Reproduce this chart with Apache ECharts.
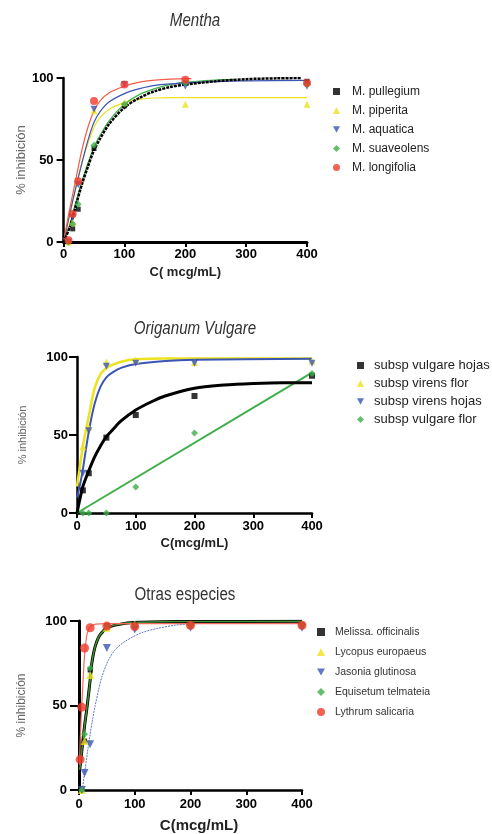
<!DOCTYPE html>
<html><head><meta charset="utf-8">
<script src="https://cdn.jsdelivr.net/npm/echarts@6/dist/echarts.min.js"></script>
<style>html,body{margin:0;padding:0;background:#fff}#c{width:492px;height:834px}</style>
</head><body><div id="c"></div>
<script>
// ---------- Chart 1: Mentha ----------
const menthaX = [8, 15, 24, 50, 100, 200, 400];
const mPullegium = [0, 8, 20, 57, 83, 97, 98];
const mPiperita = [0, 12, 37, 80, 85, 84, 84];
const mAquatica = [0, 15, 35, 81, 96, 95, 95];
const mSuaveolens = [0, 11, 23, 59, 84, 97, 96];
const mLongifolia = [1, 17, 37, 86, 96, 99, 97];
// fitted curves
const fPullegiumX = [0,10,20,30,40,50,60,75,100,125,150,175,200,250,300,350,390];
const fPullegiumY = [0,9,22,35,46,56,63,72,82,88,92,94.5,96,98,99.3,99.8,100];
const fSuaveolensX = [0,10,20,30,40,50,60,75,100,125,150,175,200,250,280];
const fSuaveolensY = [0,10,24,37,48,58,65,74,84,90,93.5,96,97.5,98.8,99.2];
const fAquaticaX = [0,10,20,30,40,50,60,75,100,125,150,200,250,300,400];
const fAquaticaY = [0,17,33,48,62,73,79.5,85.5,90.5,93.5,95.5,97,97.8,98.2,98.5];
const fLongifoliaX = [0,10,20,30,40,50,60,75,100,125,150,175,210];
const fLongifoliaY = [0,20,38,56,70,80,86,91,95,97.5,98.7,99.3,99.6];
const fPiperitaX = [0,10,20,30,40,50,60,75,100,125,150,175,400];
const fPiperitaY = [0,16,33,48,60,70,76,81,85,87,87.8,88,88];

// ---------- Chart 2: Origanum Vulgare ----------
const origX = [10, 20, 50, 100, 200, 400];
const oVulgareHojas = [14.5, 25.5, 48.3, 62.8, 75, 88];
const oVirensFlor = [42.5, 55, 96.8, 98, 96.4, 97.4];
const oVirensHojas = [25.5, 52.8, 94, 96, 96, 96];
const oVulgareFlor = [0, 0, 0, 16.6, 51.3, 89.4];
const fVulgareHojasX = [0,5,10,20,30,40,50,60,75,100,125,150,200,250,300,350,400];
const fVulgareHojasY = [0,9,17,27,36,43,49,53,59,66,71,75,80,82,83,83.5,83.5];
const fVirensFlorX = [0,5,10,20,30,40,50,60,75,100,150,400];
const fVirensFlorY = [17,30,43,62,80,89,93,95,97,98.5,99,99];
const fVirensHojasX = [0,5,10,20,30,40,50,60,75,100,150,200,400];
const fVirensHojasY = [10,18,28,52,70,81,87,90,93,95.5,97.5,98.3,98.8];
const fVulgareFlorX = [0, 400];
const fVulgareFlorY = [0, 90];

// ---------- Chart 3: Otras especies ----------
const otrasX = [2, 5, 10, 20, 50, 100, 200, 400];
const sMelissa = [null, 0, 29, 71, 97, 98, 98, 98];
const sLycopus = [null, 0, 29, 68, 96, 98, 98, 98];
const sJasonia = [null, 0, 10, 27, 84, 95, 96, 96];
const sEquisetum = [null, 0, 33, 72, 97, 98, 98, 98];
const sLythrum = [18, 49, 84, 96, 97, 96.7, 97.5, 97.5];
const fMelissaX = [1,2,5,10,14,20,23,29,38,53,82,112,150,200,400];
const fMelissaY = [12,14,23,38,48,65,75,85,92,96.3,98.6,99.3,99.6,99.7,99.8];
const fLycopusX = [1,2,5,10,14,20,23,29,38,53,82,112,150,200,400];
const fLycopusY = [12,14,22,37,47,64,74,84,91.5,96,98.5,99.2,99.6,99.7,99.8];
const fEquisetumX = [1,2,5,10,14,20,23,29,38,53,82,112,150,200,400];
const fEquisetumY = [12,14,23,38,48,65,75,85,92,96.3,98.6,99.3,99.6,99.7,99.8];
const fLythrumX = [1,2,3.5,5,7.5,10,12.5,15,20,30,50,400];
const fLythrumY = [15,28,40,50,66,80,88,93,96.5,98.2,98.5,98.5];
const fJasoniaX = [6,10,15,20,25,29,35,41,53,65,83,112,142,172,200,300,400];
const fJasoniaY = [0,10,22,33,43,50,59,67,77,83,88,93,95.7,97.5,98.3,99.3,99.6];

const titleTexts = ['Mentha', 'Origanum Vulgare', 'Otras especies'];

const FONT = '"Liberation Sans", Arial, sans-serif';
const C = {black:'#000000', yellow:'#ece21e', blue:'#3a55b4', green:'#3fae49', red:'#f0392b'};
const INV_TRI = 'path://M0,0L10,0L5,9Z';

function pairs(xs, ys) {
  const out = [];
  for (let i = 0; i < xs.length; i++) if (ys[i] !== null && ys[i] !== undefined) out.push([xs[i], ys[i]]);
  return out;
}
function pts(name, idx, xs, ys, color, symbol, size) {
  return {name, type:'scatter', xAxisIndex:idx, yAxisIndex:idx, data:pairs(xs, ys),
    symbol, symbolSize:size, itemStyle:{color}, z:3};
}
function fit(name, idx, xs, ys, color, width, extra) {
  return Object.assign({name, type:'line', xAxisIndex:idx, yAxisIndex:idx, data:pairs(xs, ys),
    showSymbol:false, symbol:'none', smooth:0.3, silent:true,
    lineStyle:{color, width}, z:2}, extra || {});
}
function xAxis(idx, name, lw, nameSize, nameGap, labelMargin, namePad) {
  return {type:'value', gridIndex:idx, min:0, max:400, interval:100,
    splitLine:{show:false},
    axisLine:{onZero:false, lineStyle:{color:'#000', width:lw}},
    axisTick:{show:true, length:5, lineStyle:{color:'#000', width:2}},
    axisLabel:{color:'#000', fontFamily:FONT, fontWeight:'bold', fontSize:13, margin:labelMargin},
    name, nameLocation:'middle', nameGap,
    nameTextStyle:{color:'#222', fontFamily:FONT, fontWeight:'bold', fontSize:nameSize, padding:namePad || 0}};
}
function yAxis(idx, lw, tickLen, nameSize, nameGap, labelMargin) {
  return {type:'value', gridIndex:idx, min:0, max:100, interval:50,
    splitLine:{show:false},
    axisLine:{onZero:false, lineStyle:{color:'#000', width:lw}},
    axisTick:{show:true, length:tickLen, lineStyle:{color:'#000', width:2}},
    axisLabel:{color:'#000', fontFamily:FONT, fontWeight:'bold', fontSize:13, margin:labelMargin},
    name:'% inhibición', nameLocation:'middle', nameGap,
    nameTextStyle:{color:'#666', fontFamily:FONT, fontSize:nameSize}};
}
function titleText(text, cx, cy, italic) {
  return {type:'text', x:cx, y:cy, scaleX:0.84, silent:true,
    style:{text, x:0, y:0, align:'center', verticalAlign:'middle',
      font:(italic ? 'italic ' : '') + '18px ' + FONT, fill:'#333'}};
}

const chart = echarts.init(document.getElementById('c'), null, {renderer:'canvas'});
chart.setOption({
  backgroundColor:'#ffffff',
  animation:false,
  graphic:[
    titleText(titleTexts[0], 195, 21, true),
    titleText(titleTexts[1], 195, 329, true),
    titleText(titleTexts[2], 185, 595, false)
  ],
  grid:[
    {left:60, top:78, width:247, height:164},
    {left:77, top:357, width:235, height:156},
    {left:79, top:621, width:223, height:171}
  ],
  xAxis:[
    xAxis(0, 'C( mcg/mL)', 3, 13, 24, 6),
    xAxis(1, 'C(mcg/mL)', 2.5, 13, 24, 7),
    xAxis(2, 'C(mcg/mL)', 2.5, 15, 28, 8, [0,0,0,17])
  ],
  yAxis:[
    yAxis(0, 2.5, 7, 13, 31, 10),
    yAxis(1, 2.5, 8, 11, 49, 9),
    yAxis(2, 3, 9, 12, 51, 12)
  ],
  legend:[
    {orient:'vertical', left:328, top:79.5, itemWidth:7, itemHeight:7, itemGap:5,
     textStyle:{fontFamily:FONT, fontSize:12, color:'#222', lineHeight:14, padding:[0,0,0,7]},
     data:['M. pullegium','M. piperita','M. aquatica','M. suaveolens','M. longifolia']},
    {orient:'vertical', left:352, top:353, itemWidth:7, itemHeight:7, itemGap:3,
     textStyle:{fontFamily:FONT, fontSize:13, color:'#222', lineHeight:15, padding:[0,0,0,5]},
     data:['subsp vulgare hojas','subsp virens flor','subsp virens hojas','subsp vulgare flor']},
    {orient:'vertical', left:312, top:621, itemWidth:8, itemHeight:8, itemGap:8,
     textStyle:{fontFamily:FONT, fontSize:10.5, color:'#333', lineHeight:12, padding:[0,0,0,5]},
     data:['Melissa. officinalis','Lycopus europaeus','Jasonia glutinosa','Equisetum telmateia','Lythrum salicaria']}
  ],
  series:[
    // Mentha curves
    fit('fit M. piperita', 0, fPiperitaX, fPiperitaY, C.yellow, 1.2),
    fit('fit M. suaveolens', 0, fSuaveolensX, fSuaveolensY, C.green, 1.2),
    fit('fit M. aquatica', 0, fAquaticaX, fAquaticaY, C.blue, 1.2),
    fit('fit M. longifolia', 0, fLongifoliaX, fLongifoliaY, '#f55a4a', 1.2),
    fit('fit M. pullegium', 0, fPullegiumX, fPullegiumY, '#000', 2.5, {lineStyle:{color:'#000', width:2.5, type:[3,1]}}),
    // Mentha points
    pts('M. pullegium', 0, menthaX, mPullegium, C.black, 'rect', 5),
    pts('M. piperita', 0, menthaX, mPiperita, C.yellow, 'triangle', 7),
    pts('M. aquatica', 0, menthaX, mAquatica, C.blue, INV_TRI, 7),
    pts('M. suaveolens', 0, menthaX, mSuaveolens, C.green, 'diamond', 7),
    pts('M. longifolia', 0, menthaX, mLongifolia, C.red, 'circle', 8),
    // Origanum curves
    fit('fit subsp vulgare flor', 1, fVulgareFlorX, fVulgareFlorY, C.green, 2, {smooth:false}),
    fit('fit subsp vulgare hojas', 1, fVulgareHojasX, fVulgareHojasY, '#000', 3),
    fit('fit subsp virens flor', 1, fVirensFlorX, fVirensFlorY, C.yellow, 2.5),
    fit('fit subsp virens hojas', 1, fVirensHojasX, fVirensHojasY, C.blue, 2),
    // Origanum points
    pts('subsp vulgare hojas', 1, origX, oVulgareHojas, C.black, 'rect', 6),
    pts('subsp virens flor', 1, origX, oVirensFlor, C.yellow, 'triangle', 7),
    pts('subsp virens hojas', 1, origX, oVirensHojas, C.blue, INV_TRI, 7),
    pts('subsp vulgare flor', 1, origX, oVulgareFlor, C.green, 'diamond', 7),
    // Otras curves
    fit('fit Jasonia glutinosa', 2, fJasoniaX, fJasoniaY, '#5b78c8', 1, {lineStyle:{color:'#5b78c8', width:1, type:[2,1]}}),
    fit('fit Lycopus europaeus', 2, fLycopusX, fLycopusY, C.yellow, 2),
    fit('fit Melissa. officinalis', 2, fMelissaX, fMelissaY, '#000', 3),
    fit('fit Equisetum telmateia', 2, fEquisetumX, fEquisetumY, '#3f8f3a', 1.5),
    fit('fit Lythrum salicaria', 2, fLythrumX, fLythrumY, '#f26a5e', 1.2),
    // Otras points
    pts('Melissa. officinalis', 2, otrasX, sMelissa, C.black, 'rect', 5),
    pts('Lycopus europaeus', 2, otrasX, sLycopus, C.yellow, 'triangle', 8),
    pts('Jasonia glutinosa', 2, otrasX, sJasonia, C.blue, INV_TRI, 8),
    pts('Equisetum telmateia', 2, otrasX, sEquisetum, C.green, 'diamond', 7),
    pts('Lythrum salicaria', 2, otrasX, sLythrum, C.red, 'circle', 9)
  ]
});
</script></body></html>
